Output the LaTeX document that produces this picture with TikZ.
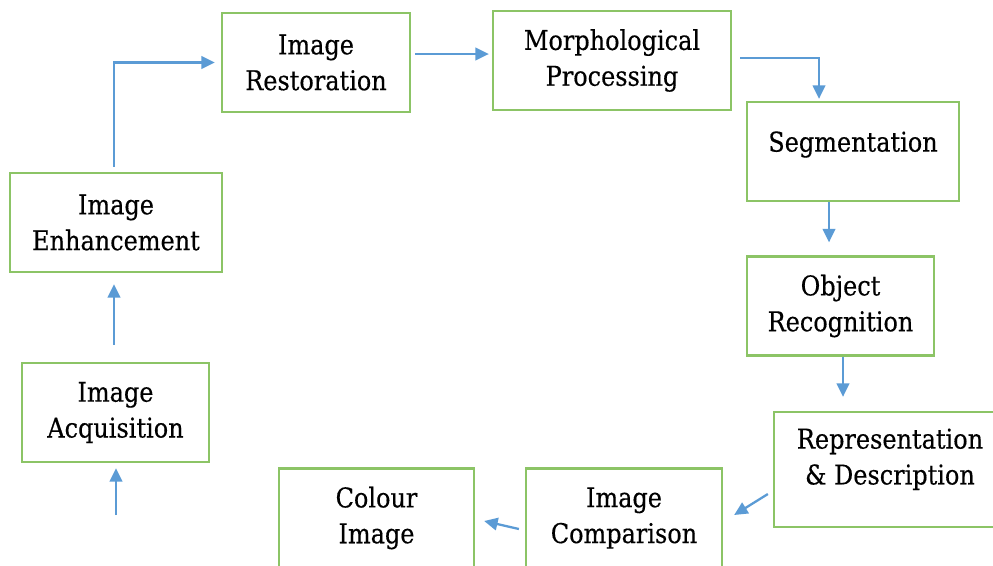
\documentclass[tikz,border=0pt]{standalone}
\usepackage{fontspec}
\setmainfont{DejaVu Serif}[FakeStretch=0.88, FakeBold=0.4]
\usepackage{xcolor}
\usetikzlibrary{arrows.meta}
\definecolor{boxgreen}{HTML}{8CC466}
\definecolor{flowblue}{HTML}{5B9BD5}

\begin{document}
\begin{tikzpicture}[x=0.02cm, y=-0.02cm,
        box/.style = {draw=boxgreen, line width=1.3pt, align=center, minimum height=1.98cm,
                      font=\fontsize{15.5}{20.4}\selectfont, inner sep=2pt},
        flow/.style = {draw=flowblue, line width=1.3pt, -{Triangle[length=0.27cm, width=0.25cm]}}]
        \clip (0,0) rectangle (993,565);
        \node[box, minimum width=3.74cm] (acq) at (115.5,412.5) {Image\\Acquisition};
        \node[box, minimum width=4.24cm] (enh) at (116,222.5) {Image\\Enhancement};
        \node[box, minimum width=3.76cm] (rest) at (316,62.5) {Image\\Restoration};
        \node[box, minimum width=4.76cm] (morph) at (612,60.5) {Morphological\\Processing};
        \node[box, minimum width=4.24cm, text depth=0.4cm] (seg) at (853,151.5) {Segmentation};
        \node[box, minimum width=3.74cm] (obj) at (840.5,306) {Object\\Recognition};
        \node[box, minimum width=4.64cm, minimum height=2.3cm, text depth=0.52cm] (rep) at (890,469.5) {Representation\\\& Description};
        \node[box, minimum width=3.92cm] (cmp) at (624,518) {Image\\Comparison};
        \node[box, minimum width=3.9cm] (col) at (376.5,518) {Colour\\Image};
        \coordinate (in) at (116,515);
        % flow of the steps
        \draw[flow, shorten >=0.1cm] (in) -- (in |- acq.south);
        \draw[flow, shorten <=0.34cm, shorten >=0.22cm] ([xshift=-0.03cm]acq.north) -- ([xshift=-0.03cm]acq.north |- enh.south);
        \draw[flow, shorten <=0.1cm, shorten >=0.12cm] ([xshift=-0.04cm]enh.north) |- (rest.west);
        \draw[flow, shorten <=0.08cm, shorten >=0.06cm] ([yshift=0.17cm]rest.east) -- ([yshift=0.17cm]rest.east -| morph.west);
        \draw[flow, shorten <=0.16cm, shorten >=0.04cm] ([yshift=0.05cm]morph.east) -| ([xshift=-0.68cm]seg.north);
        \draw[flow, shorten >=0.26cm] ([xshift=-0.48cm]seg.south) -- ([xshift=-0.48cm]seg.south |- obj.north);
        \draw[flow, shorten >=0.28cm] ([xshift=0.05cm]obj.south) -- ([xshift=0.05cm]obj.south |- rep.north);
        \draw[flow] ([xshift=-0.1cm, yshift=-0.49cm]rep.west) -- ([xshift=0.22cm, yshift=0.06cm]cmp.east);
        \draw[flow] ([xshift=-0.12cm, yshift=-0.22cm]cmp.west) -- ([xshift=0.18cm, yshift=-0.06cm]col.east);
      \end{tikzpicture}
\end{document}
